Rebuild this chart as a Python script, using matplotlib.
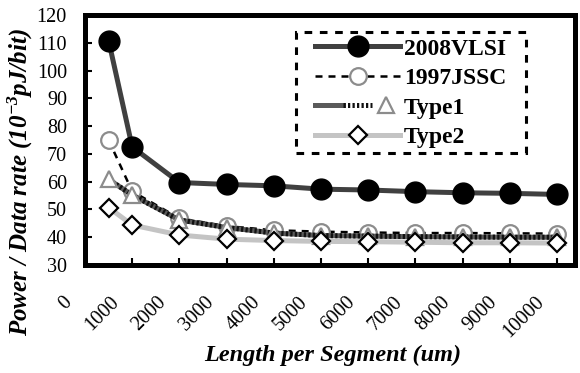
import matplotlib
matplotlib.use("Agg")
import matplotlib.pyplot as plt
from matplotlib.legend_handler import HandlerTuple
from matplotlib.patches import Rectangle
from matplotlib.transforms import ScaledTranslation

plt.rcParams['font.family'] = ['Liberation Serif', 'DejaVu Serif']
plt.rcParams['mathtext.fontset'] = 'custom'
plt.rcParams['mathtext.rm'] = 'Liberation Serif:bold:italic'
plt.rcParams['mathtext.bf'] = 'Liberation Serif:bold:italic'
plt.rcParams['mathtext.it'] = 'Liberation Serif:bold:italic'

# segment length (um)
seg_len = [500, 1000, 2000, 3000, 4000, 5000, 6000, 7000, 8000, 9000, 10000]
vlsi_2008 = [110.8, 72.5, 59.7, 59.0, 58.5, 57.3, 57.0, 56.4, 56.0, 55.8, 55.4]
jssc_1997 = [75.0, 56.5, 46.8, 44.0, 42.5, 42.0, 41.7, 41.5, 41.5, 41.4, 41.3]
type1 = [60.8, 55.2, 46.2, 43.5, 41.5, 40.6, 40.4, 40.2, 40.1, 40.0, 40.0]
type2 = [50.7, 44.4, 40.8, 39.3, 38.8, 38.5, 38.4, 38.2, 38.0, 38.0, 37.9]

x_ticks = [0, 1000, 2000, 3000, 4000, 5000, 6000, 7000, 8000, 9000, 10000]
y_ticks = [30, 40, 50, 60, 70, 80, 90, 100, 110, 120]

W, H = 580, 373
fig = plt.figure(figsize=(W / 100, H / 100), dpi=100)
ax = fig.add_axes([85 / W, 1 - 265 / H, 490 / W, 250 / H])

# 2008VLSI
l1, = ax.plot(seg_len, vlsi_2008, color='#404040', lw=3.6, marker='o', ms=15,
              mfc='black', mec='black', mew=1, zorder=3)
# 1997JSSC
l2, = ax.plot(seg_len, jssc_1997, color='black', lw=1.8, ls=(0, (2.8, 2.4)),
              marker='o', ms=12, mfc='white', mec='#8c8c8c', mew=1.6, zorder=4)
# Type1 (striped line)
l3a, = ax.plot(seg_len, type1, color='#5a5a5a', lw=3.6, zorder=5)
l3b, = ax.plot(seg_len, type1, color='#111111', lw=3.6, ls=(0, (0.45, 0.45)), zorder=5)
l3m, = ax.plot(seg_len, type1, ls='none', marker='^', ms=11, mfc='white',
               mec='#8c8c8c', mew=1.6, zorder=5)
# Type2
l4, = ax.plot(seg_len, type2, color='#c4c4c4', lw=3.6, marker='D', ms=9.5,
              mfc='white', mec='black', mew=1.6, zorder=6)

ax.set_xlim(0, 10380)
ax.set_ylim(30, 120)
ax.set_xticks(x_ticks)
ax.set_xticklabels([str(t) for t in x_ticks], rotation=45, ha='right', va='top')
ax.set_yticks(y_ticks)
ax.tick_params(axis='both', direction='in', length=5, width=1.5, labelsize=14.5)
ax.tick_params(axis='y', pad=13)
ax.tick_params(axis='x', pad=20)
for lab in ax.get_xticklabels():
    lab.set_transform(lab.get_transform() + ScaledTranslation(-0.09, 0, fig.dpi_scale_trans))
for s in ax.spines.values():
    s.set_linewidth(3.6)

fig.text(20 / W, 1 - 182 / H, r'Power / Data rate (10$^{-3}$pJ/bit)',
         rotation=90, ha='center', va='center', fontsize=18,
         fontweight='bold', fontstyle='italic')
fig.text(333 / W, 1 - 355 / H, 'Length per Segment (um)',
         ha='center', va='center', fontsize=17.5,
         fontweight='bold', fontstyle='italic')

leg = ax.legend([l1, l2, (l3a, l3b, l3m), l4],
                ['2008VLSI', '1997JSSC', 'Type1', 'Type2'],
                handler_map={tuple: HandlerTuple(ndivide=None, pad=0)},
                loc='upper left', bbox_to_anchor=(315 / W, 1 - 38 / H),
                bbox_transform=fig.transFigure,
                prop={'weight': 'bold', 'size': 17}, frameon=False,
                handlelength=3.6, handletextpad=0.17, labelspacing=0.34,
                borderpad=0, borderaxespad=0)
ax.add_patch(Rectangle((296 / W, 1 - 153 / H), 230 / W, 121 / H,
                       transform=fig.transFigure, fill=False, edgecolor='black',
                       lw=2.2, ls=(0, (2.5, 2.5)), zorder=10, clip_on=False))

fig.savefig('out.png', dpi=100)
